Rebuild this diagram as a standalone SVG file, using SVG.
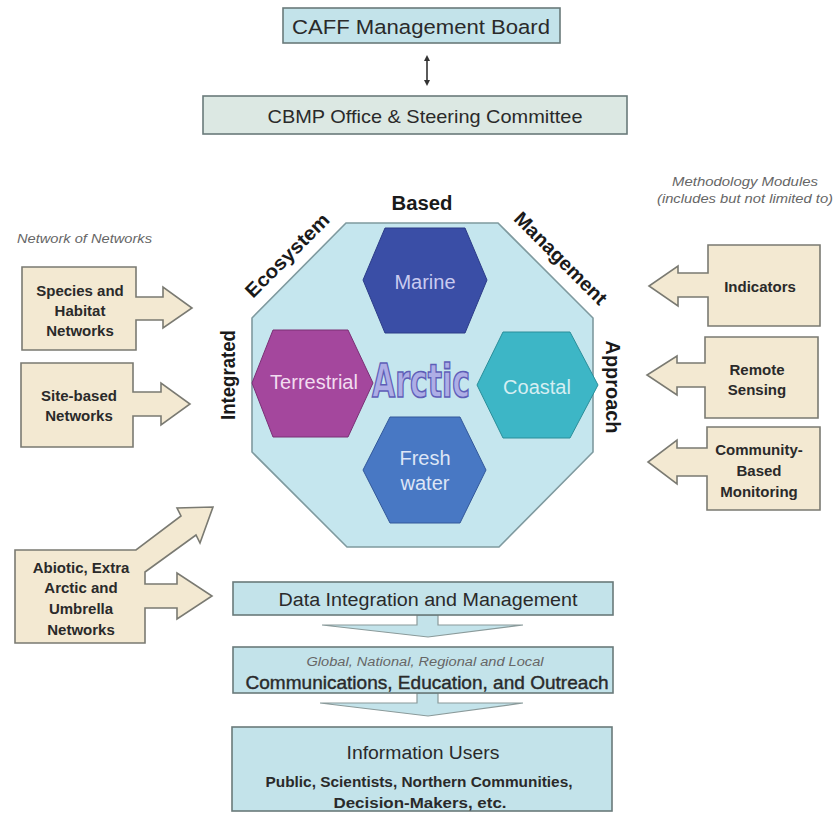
<svg xmlns="http://www.w3.org/2000/svg" width="838" height="816" viewBox="0 0 838 816">
<style>
.t{font-family:"Liberation Sans",Arial,sans-serif;fill:#2a2a2a;text-anchor:middle}
.b{font-weight:bold}
.it{font-style:italic;fill:#666}
.tan{fill:#f3e9d2;stroke:#7a7a72;stroke-width:1.6}
.blu{fill:#c3e3ea;stroke:#6a7a7a;stroke-width:1.6}
.bx{font-size:15px;font-weight:bold}
.hx{font-family:"Liberation Sans",Arial,sans-serif;font-size:20px;text-anchor:middle}
.side{font-family:"Liberation Sans",Arial,sans-serif;font-size:19.5px;font-weight:bold;fill:#1a1a1a;text-anchor:middle}
</style>
<defs>
<marker id="ah" markerWidth="6" markerHeight="6" refX="3" refY="3" orient="auto-start-reverse" markerUnits="userSpaceOnUse"><path d="M0,0 L6,3 L0,6 z" fill="#333"/></marker>
</defs>
<rect width="838" height="816" fill="#ffffff"/>

<g id="caff-board">
<rect x="283" y="8" width="277" height="35" class="blu" fill="#c6e4e9"/>
<text x="421" y="34" class="t" font-size="20.5" textLength="258" lengthAdjust="spacingAndGlyphs">CAFF Management Board</text>
</g>

<g id="connectors">
<line x1="427" y1="58" x2="427" y2="83" stroke="#333" stroke-width="1.6" marker-start="url(#ah)" marker-end="url(#ah)"/>
<path d="M417,615 L417,625 L322,625 L428,637 L523,625 L438,625 L438,615 Z" fill="#c3e3ea" stroke="#8a9a9a" stroke-width="1.2"/>
<path d="M417,693 L417,703 L320,703 L428,716 L523,703 L438,703 L438,693 Z" fill="#c3e3ea" stroke="#8a9a9a" stroke-width="1.2"/>
</g>

<g id="cbmp-office">
<rect x="203" y="96" width="424" height="38" fill="#dce8e3" stroke="#6a7a7a" stroke-width="1.6"/>
<text x="425" y="123" class="t" font-size="19" textLength="315" lengthAdjust="spacingAndGlyphs">CBMP Office &amp; Steering Committee</text>
</g>

<g id="octagon">
<polygon points="346,223 498,223 593,318 593,452 499,547 347,547 252,452 252,318" fill="#c5e6ee" stroke="#7f9a9f" stroke-width="1.6"/>
<text x="422" y="210" class="side" textLength="61" lengthAdjust="spacingAndGlyphs">Based</text>
<text class="side" transform="translate(292,260) rotate(-45)" textLength="110" lengthAdjust="spacingAndGlyphs">Ecosystem</text>
<text class="side" transform="translate(556,263) rotate(45)" textLength="122" lengthAdjust="spacingAndGlyphs">Management</text>
<text class="side" transform="translate(235,375) rotate(-90)" textLength="90" lengthAdjust="spacingAndGlyphs">Integrated</text>
<text class="side" transform="translate(606,387) rotate(90)" textLength="93" lengthAdjust="spacingAndGlyphs">Approach</text>
</g>

<g id="marine">
<polygon points="385,228 465,228 487,280 465,333 385,333 363,280" fill="#3a4ea6" stroke="#2c3c88" stroke-width="1"/>
<text x="425" y="289" class="hx" fill="#c9cbf0">Marine</text>
</g>
<g id="terrestrial">
<polygon points="273,330 348,330 373,383 348,437 273,437 252,383" fill="#a4479d" stroke="#7a3075" stroke-width="1"/>
<text x="314" y="389" class="hx" fill="#f2dcf0">Terrestrial</text>
</g>
<g id="coastal">
<polygon points="503,332 570,332 598,385 570,438 503,438 477,385" fill="#3db6c6" stroke="#2a8e9a" stroke-width="1"/>
<text x="537" y="394" class="hx" fill="#d6eef2">Coastal</text>
</g>
<g id="freshwater">
<polygon points="390,417 460,417 486,470 460,523 390,523 363,470" fill="#4878c4" stroke="#33589a" stroke-width="1"/>
<text x="425" y="465" class="hx" fill="#dde6f6">Fresh</text>
<text x="425" y="490" class="hx" fill="#dde6f6">water</text>
</g>
<g id="arctic">
<text x="421" y="397" font-family="'DejaVu Sans Condensed','DejaVu Sans',sans-serif" font-weight="bold" font-size="46" textLength="98" lengthAdjust="spacingAndGlyphs" text-anchor="middle" fill="#aeaee6" stroke="#5e5eb8" stroke-width="1.6">Arctic</text>
</g>

<text x="17" y="243" class="t it" font-size="12" style="text-anchor:start" textLength="135" lengthAdjust="spacingAndGlyphs">Network of Networks</text>
<text x="745" y="186" class="t it" font-size="12.5" textLength="146" lengthAdjust="spacingAndGlyphs">Methodology Modules</text>
<text x="745" y="203" class="t it" font-size="12.5" textLength="176" lengthAdjust="spacingAndGlyphs">(includes but not limited to)</text>

<g id="species-habitat">
<path d="M22,267 L136,267 L136,297 L163,297 L163,287 L192,308 L163,328 L163,320 L136,320 L136,350 L22,350 Z" class="tan"/>
<text x="80" y="296" class="t bx">Species and</text>
<text x="80" y="316" class="t bx">Habitat</text>
<text x="80" y="336" class="t bx">Networks</text>
</g>
<g id="site-based">
<path d="M21,363 L133,363 L133,392 L161,392 L161,383 L190,404 L161,425 L161,416 L133,416 L133,447 L21,447 Z" class="tan"/>
<text x="79" y="401" class="t bx">Site-based</text>
<text x="79" y="421" class="t bx">Networks</text>
</g>
<g id="abiotic">
<path d="M15,550 L136,550 L181,516 L177,508 L213,507 L200,543 L196,535 L145,572 L145,584 L177,584 L177,573 L212,596 L177,619 L177,608 L145,608 L145,643 L15,643 Z" class="tan"/>
<text x="81" y="573" class="t bx">Abiotic, Extra</text>
<text x="81" y="593" class="t bx">Arctic and</text>
<text x="81" y="614" class="t bx">Umbrella</text>
<text x="81" y="635" class="t bx">Networks</text>
</g>

<g id="indicators">
<path d="M820,245 L708,245 L708,273 L678,273 L678,266 L649,286 L678,306 L678,297 L708,297 L708,326 L820,326 Z" class="tan"/>
<text x="760" y="292" class="t bx">Indicators</text>
</g>
<g id="remote-sensing">
<path d="M818,337 L705,337 L705,363 L677,363 L677,356 L647,375 L677,395 L677,387 L705,387 L705,418 L818,418 Z" class="tan"/>
<text x="757" y="375" class="t bx">Remote</text>
<text x="757" y="395" class="t bx">Sensing</text>
</g>
<g id="community-based">
<path d="M820,427 L707,427 L707,448 L677,448 L677,440 L648,462 L677,484 L677,476 L707,476 L707,510 L820,510 Z" class="tan"/>
<text x="759" y="455" class="t bx">Community-</text>
<text x="759" y="476" class="t bx">Based</text>
<text x="759" y="497" class="t bx">Monitoring</text>
</g>

<g id="data-integration">
<rect x="233" y="582" width="380" height="33" class="blu"/>
<text x="428" y="606" class="t" font-size="18" textLength="299" lengthAdjust="spacingAndGlyphs">Data Integration and Management</text>
</g>
<g id="communications">
<rect x="233" y="647" width="380" height="46" class="blu"/>
<text x="425" y="666" class="t it" font-size="12" textLength="237" lengthAdjust="spacingAndGlyphs">Global, National, Regional and Local</text>
<text x="427" y="689" class="t" font-size="19" stroke="#2a2a2a" stroke-width="0.4" textLength="363" lengthAdjust="spacingAndGlyphs">Communications, Education, and Outreach</text>
</g>
<g id="information-users">
<rect x="232" y="727" width="380" height="84" class="blu"/>
<text x="423" y="759" class="t" font-size="18" textLength="153" lengthAdjust="spacingAndGlyphs">Information Users</text>
<text x="419" y="787" class="t b" font-size="14.5" textLength="307" lengthAdjust="spacingAndGlyphs">Public, Scientists, Northern Communities,</text>
<text x="420" y="808" class="t b" font-size="14.5" textLength="173" lengthAdjust="spacingAndGlyphs">Decision-Makers, etc.</text>
</g>
</svg>
